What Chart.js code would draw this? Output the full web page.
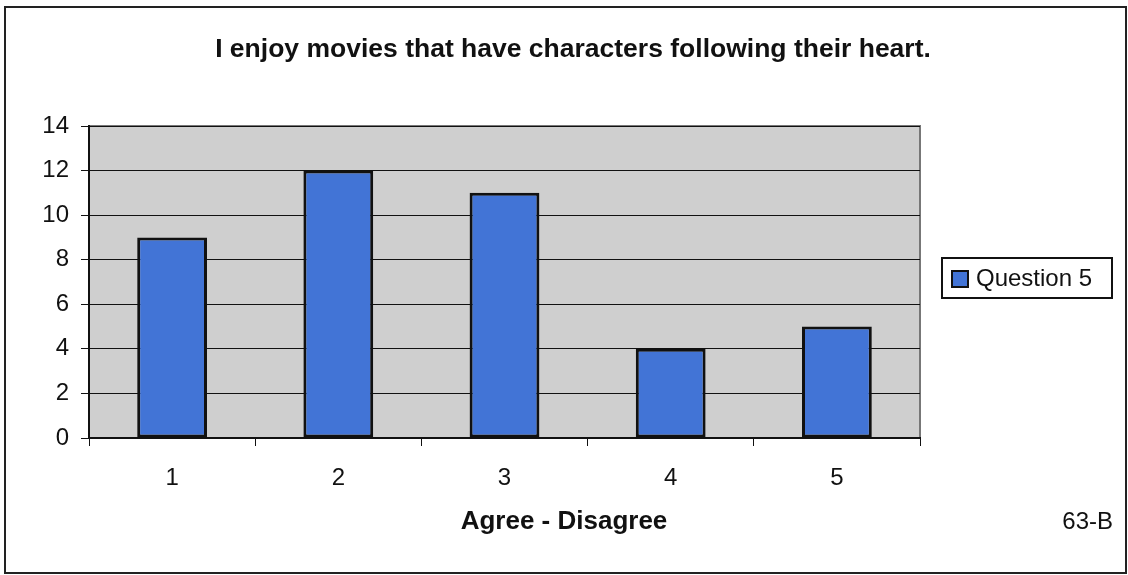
<!DOCTYPE html>
<html>
<head>
<meta charset="utf-8">
<script src="https://cdn.jsdelivr.net/npm/chart.js@4/dist/chart.umd.min.js"></script>
<style>
  html, body { margin: 0; padding: 0; background: #fff; }
  #wrap { width: 1128px; height: 575px; position: relative; }
</style>
</head>
<body>
<div id="wrap"><canvas id="chart" width="1128" height="575"></canvas></div>
<script>
const categories = ["1", "2", "3", "4", "5"];
const question5 = [9, 12, 11, 4, 5];
const seriesName = "Question 5";
const titleText = "I enjoy movies that have characters following their heart.";
const xTitle = "Agree - Disagree";
const cornerNote = "63-B";

const FONT = "'Liberation Sans', Arial, sans-serif";

// gray plot background, frame, titles, legend box and the corner note.
// titles are centred on the page, not on the plot, so they are drawn here
const decor = {
  id: "decor",
  beforeDraw(chart) {
    const { ctx, chartArea: a } = chart;
    ctx.save();
    ctx.fillStyle = "#cfcfcf";
    ctx.fillRect(a.left, a.top, a.right - a.left, a.bottom - a.top);
    ctx.strokeStyle = "#777";
    ctx.lineWidth = 2;
    ctx.beginPath();
    ctx.moveTo(a.left, a.top);
    ctx.lineTo(a.right, a.top);
    ctx.lineTo(a.right, a.bottom);
    ctx.stroke();
    ctx.restore();
  },
  afterDraw(chart) {
    const { ctx } = chart;
    const ds = chart.data.datasets[0];
    ctx.save();
    ctx.strokeStyle = "#222";
    ctx.lineWidth = 2;
    ctx.strokeRect(5, 7, 1121, 566);

    ctx.fillStyle = "#111";
    ctx.textBaseline = "middle";
    ctx.textAlign = "center";
    ctx.font = "bold 26.5px " + FONT;
    ctx.fillText(titleText, 573, 50);
    ctx.font = "bold 26px " + FONT;
    ctx.fillText(xTitle, 564, 522);

    // legend
    ctx.strokeStyle = "#111";
    ctx.lineWidth = 2;
    ctx.strokeRect(942, 258, 170, 40);
    ctx.fillStyle = ds.backgroundColor;
    ctx.fillRect(952, 271, 16, 16);
    ctx.strokeRect(952, 271, 16, 16);
    ctx.fillStyle = "#111";
    ctx.font = "24px " + FONT;
    ctx.textAlign = "left";
    ctx.fillText(ds.label, 976, 279);

    ctx.textAlign = "right";
    ctx.fillText(cornerNote, 1113, 522);
    ctx.restore();
  }
};

new Chart(document.getElementById("chart"), {
  type: "bar",
  data: {
    labels: categories,
    datasets: [{
      label: seriesName,
      data: question5,
      backgroundColor: "#4274d6",
      borderColor: "#111",
      borderWidth: 3,
      borderSkipped: false,
      barPercentage: 0.42,
      categoryPercentage: 1
    }]
  },
  options: {
    responsive: false,
    animation: false,
    layout: { padding: { left: 10, top: 126, right: 208, bottom: 10 } },
    plugins: {
      title: { display: false },
      legend: { display: false },
      tooltip: { enabled: false }
    },
    scales: {
      x: {
        grid: {
          offset: true,
          drawOnChartArea: false,
          drawTicks: true,
          tickLength: 8,
          color: "#111"
        },
        border: { color: "#111", width: 2 },
        ticks: { color: "#111", font: { family: FONT, size: 24 }, padding: 18 },
        afterFit(scale) { scale.height = 127; }
      },
      y: {
        min: 0,
        max: 14,
        ticks: { stepSize: 2, color: "#111", font: { family: FONT, size: 24 }, padding: 12 },
        grid: { color: "#111", lineWidth: 1, tickLength: 8 },
        border: { color: "#111", width: 2 },
        afterFit(scale) { scale.width = 79; }
      }
    }
  },
  plugins: [decor]
});
</script>
</body>
</html>
